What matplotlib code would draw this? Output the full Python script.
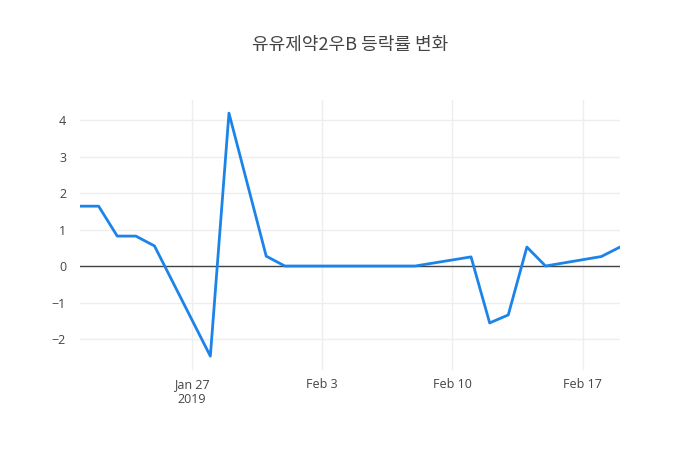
import matplotlib
matplotlib.use('Agg')
import matplotlib.pyplot as plt
import pandas as pd

# 거래일과 등락률
dates = ['2019-01-21', '2019-01-22', '2019-01-23', '2019-01-24', '2019-01-25',
         '2019-01-28', '2019-01-29', '2019-01-30', '2019-01-31', '2019-02-01',
         '2019-02-07', '2019-02-08', '2019-02-11', '2019-02-12', '2019-02-13',
         '2019-02-14', '2019-02-15', '2019-02-18', '2019-02-19']
rates = [1.64, 1.64, 0.82, 0.82, 0.55,
         -2.47, 4.19, 2.23, 0.27, 0.0,
         0.0, 0.0, 0.25, -1.56, -1.34,
         0.52, 0.0, 0.26, 0.52]

tick_dates = ['2019-01-27', '2019-02-03', '2019-02-10', '2019-02-17']
tick_labels = ['Jan 27\n2019', 'Feb 3', 'Feb 10', 'Feb 17']
y_ticks = [-2, -1, 0, 1, 2, 3, 4]

x = pd.to_datetime(dates)

plt.rcParams['font.family'] = ['Open Sans', 'DejaVu Sans']
fig = plt.figure(figsize=(7, 4.5), dpi=100)
ax = fig.add_axes([80/700, 80/450, 540/700, 270/450])

ax.plot(x, rates, color='#1c84e8', lw=2, zorder=3)
ax.axhline(0, color='#444444', lw=1, zorder=2)

ax.set_xlim(x[0], x[-1])
ax.set_ylim(-2.85, 4.55)
ax.set_xticks(pd.to_datetime(tick_dates))
ax.set_xticklabels(tick_labels)
ax.set_yticks(y_ticks)
ax.set_yticklabels([str(v).replace('-', '\u2212') for v in y_ticks])

ax.grid(True, color='#eeeeee', lw=1, zorder=0)
for s in ax.spines.values():
    s.set_visible(False)
ax.tick_params(length=0, labelsize=9, colors='#444444', pad=6)
ax.tick_params(axis='y', pad=10)

fig.text(0.5, 1 - 45/450, '유유제약2우B 등락률 변화', ha='center', va='center',
         fontsize=13, color='#444444', family=['Noto Sans CJK KR', 'DejaVu Sans'])

fig.savefig('out.png', dpi=100)
